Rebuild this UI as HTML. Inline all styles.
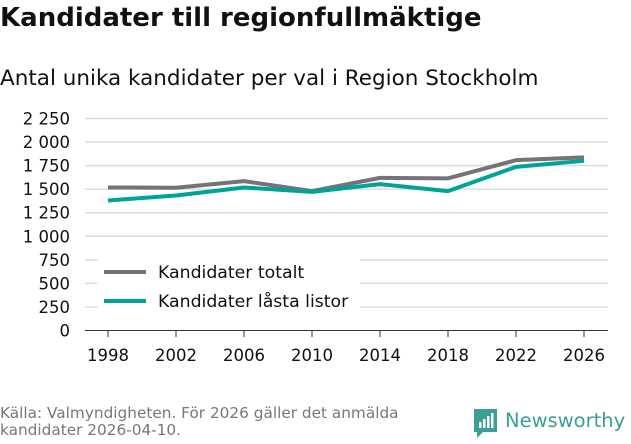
<!DOCTYPE html>
<html><head><meta charset="utf-8">
<style>
html,body{margin:0;padding:0;background:#fff;}
body{width:631px;height:439px;overflow:hidden;position:relative;font-family:"DejaVu Sans","Liberation Sans",sans-serif;color:#111;}
#title{position:absolute;left:0;top:3px;font-size:26px;font-weight:bold;margin:0;letter-spacing:0px;}
#subtitle{position:absolute;left:0;top:66px;font-size:21.5px;}
#source{position:absolute;left:0;top:405px;font-size:15.3px;color:#777;line-height:17px;}
#logo{position:absolute;left:472px;top:406px;}
</style></head><body>
<h1 id="title">Kandidater till regionfullmäktige</h1>
<div id="subtitle">Antal unika kandidater per val i Region Stockholm</div>
<svg id="chart" width="631" height="439" style="position:absolute;left:0;top:0" xmlns="http://www.w3.org/2000/svg"></svg>
<div id="source">Källa: Valmyndigheten. För 2026 gäller det anmälda<br>kandidater 2026-04-10.</div>
<div id="logo">
<svg width="157" height="34" xmlns="http://www.w3.org/2000/svg">
<path d="M2 3h23v23h-14l-6 6v-6h-3z" fill="#3a9e94"/>
<rect x="7" y="16" width="2.5" height="6" fill="#fff"/><rect x="11" y="13" width="2.5" height="9" fill="#fff"/><rect x="15" y="10" width="2.5" height="12" fill="#fff"/><rect x="19" y="7" width="2.5" height="15" fill="#fff"/>
<text x="33" y="21" font-size="19.5" font-family="DejaVu Sans, Liberation Sans, sans-serif" fill="#3a9e94">Newsworthy</text>
</svg></div>
<script>
const years=[1998,2002,2006,2010,2014,2018,2022,2026];
const totalt=[1518,1515,1585,1480,1620,1615,1808,1837];
const lasta=[1380,1433,1518,1471,1553,1479,1737,1801];
const yTicks=[0,250,500,750,1000,1250,1500,1750,2000,2250];
const yTickLabels=["0","250","500","750","1 000","1 250","1 500","1 750","2 000","2 250"];
const seriesNames=["Kandidater totalt","Kandidater låsta listor"];
const NS="http://www.w3.org/2000/svg";
const svg=document.getElementById('chart');
const x=v=>108+(v-1998)/28*476;
const y=v=>330.5-v/2250*212;
function el(t,a){const e=document.createElementNS(NS,t);for(const k in a)e.setAttribute(k,a[k]);svg.appendChild(e);return e;}
yTicks.forEach((t,i)=>{
  const g=el('line',{x1:85,x2:608,y1:y(t),y2:y(t),stroke:t===0?'#333':'#ddd','stroke-width':t===0?1:1.5});
  
  
  const l=el('text',{x:70,y:y(t)+6,'text-anchor':'end','font-size':16.5,fill:'#111'});
  l.textContent=yTickLabels[i];
  
  
});
years.forEach(yr=>{
  const tk=el('line',{x1:x(yr),x2:x(yr),y1:331,y2:337,stroke:'#333'});
  
  
  const l=el('text',{x:x(yr),y:361,'text-anchor':'middle','font-size':16.5,fill:'#111'});
  l.textContent=yr;
  
  
});
function line(vals,color,name){
  const p=el('polyline',{points:vals.map((v,i)=>x(years[i])+','+y(v)).join(' '),fill:'none',stroke:color,'stroke-width':4,'stroke-linejoin':'round'});
  
  
}
line(totalt,'#75727a','series-totalt');
line(lasta,'#00a397','series-lasta-listor');
const bg=el('rect',{x:98,y:258,width:262,height:60,fill:'#fff'});


[['#75727a',seriesNames[0],272],['#00a397',seriesNames[1],301]].forEach(([c,n,yy])=>{
  const s=el('line',{x1:104,x2:146,y1:yy,y2:yy,stroke:c,'stroke-width':4});
  
  
  const t=el('text',{x:158,y:yy+6,'font-size':17.3,fill:'#111'});
  t.textContent=n;
  
  
});
</script>
</body></html>
